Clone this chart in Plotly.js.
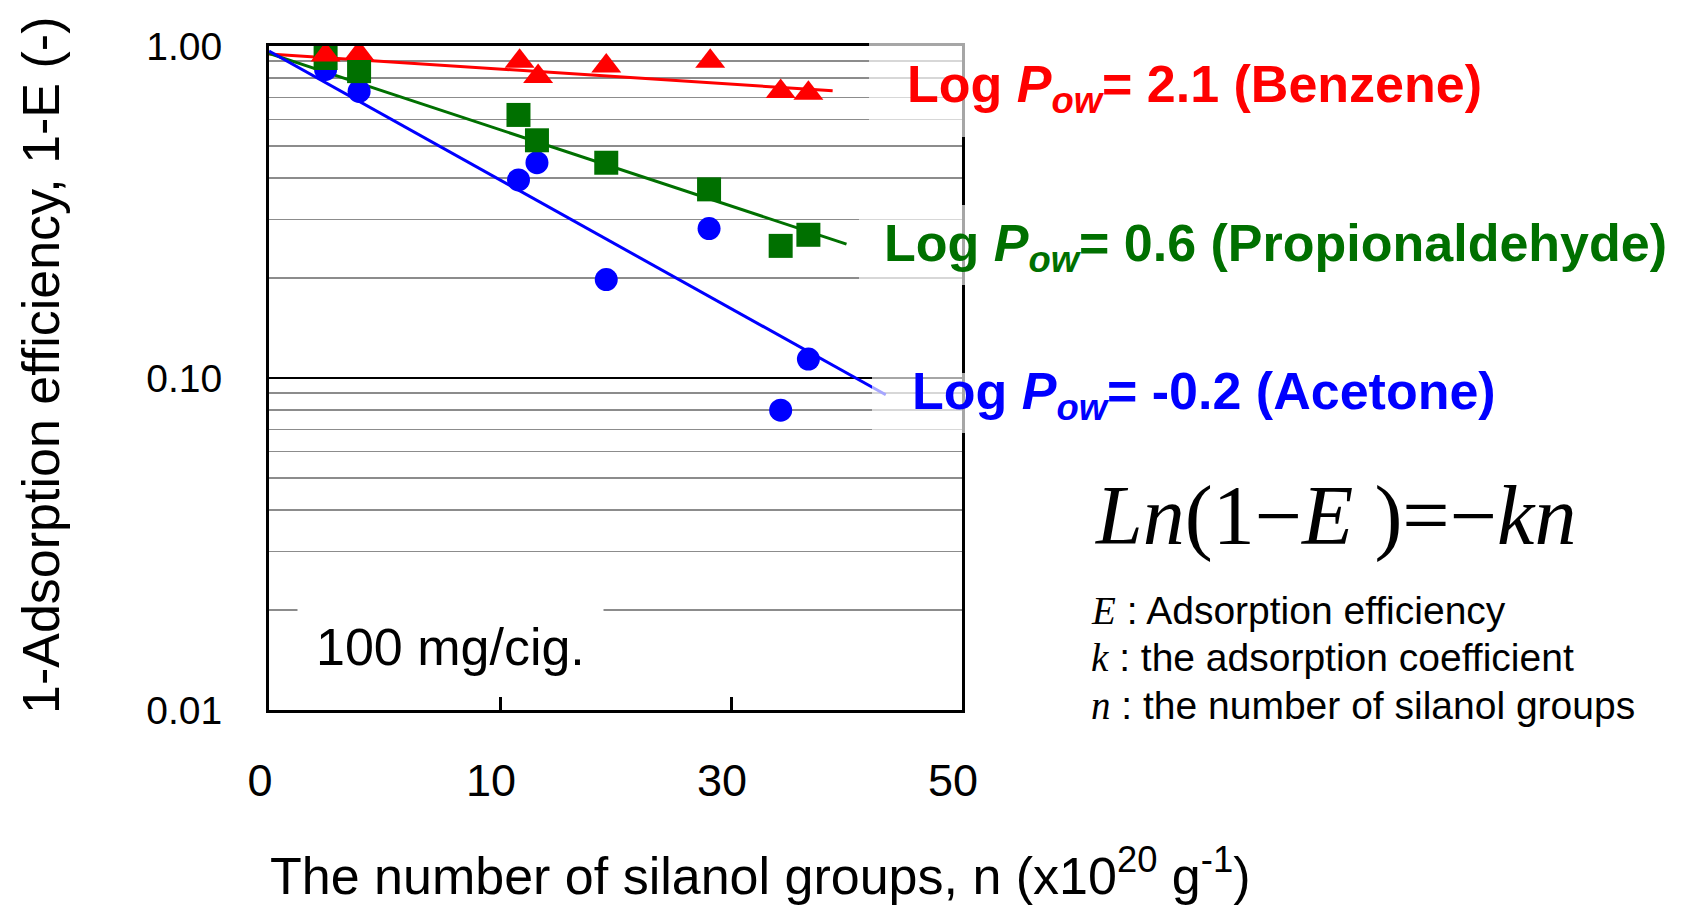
<!DOCTYPE html>
<html>
<head>
<meta charset="utf-8">
<script src="https://cdn.plot.ly/plotly-3.0.1.min.js"></script>
<style>html,body{margin:0;padding:0;background:#fff;}#chart{width:1683px;height:908px;}</style>
</head>
<body>
<div id="chart"></div>
<script>
// x in plot units (axis 0..60, labelled 0,10,30,50 at equal spacing as in the source)
const nBenzene = [4.9, 7.8, 21.7, 23.3, 29.2, 38.2, 44.3, 46.7];
const yBenzene = [0.94, 0.95, 0.90, 0.81, 0.87, 0.90, 0.73, 0.72];
const nPropional = [4.9, 7.8, 21.6, 23.2, 29.2, 38.1, 44.3, 46.7];
const yPropional = [0.92, 0.84, 0.62, 0.52, 0.445, 0.37, 0.25, 0.27];
const nAcetone = [4.9, 7.8, 21.6, 23.2, 29.2, 38.1, 44.3, 46.7];
const yAcetone = [0.85, 0.73, 0.395, 0.445, 0.198, 0.282, 0.080, 0.114];

const fitBenzeneX = [0, 48.8], fitBenzeneY = [0.946, 0.733];
const fitPropionalX = [0, 50.0], fitPropionalY = [0.95, 0.253];
const fitAcetoneX = [0, 53.4], fitAcetoneY = [0.965, 0.089];

const xTickVals = [0, 20, 40, 60];
const xTickText = ["0", "10", "30", "50"];
const yTickVals = [0.01, 0.1, 1];
const yTickText = ["0.01", "0.10", "1.00"];
const yMinorVals = [0.02,0.03,0.04,0.05,0.06,0.07,0.08,0.09,0.2,0.3,0.4,0.5,0.6,0.7,0.8,0.9];

const RED = '#ff0000', GREEN = '#007000', BLUE = '#0000ff';
const NARROW = '"Liberation Sans Narrow", "Arial Narrow", "Liberation Sans", Arial, sans-serif';
const SERIF = '"Liberation Serif", "Times New Roman", serif';

const traces = [
  {x: fitBenzeneX, y: fitBenzeneY, mode: 'lines', line: {color: RED, width: 3}, hoverinfo: 'skip'},
  {x: fitPropionalX, y: fitPropionalY, mode: 'lines', line: {color: GREEN, width: 3}, hoverinfo: 'skip'},
  {x: fitAcetoneX, y: fitAcetoneY, mode: 'lines', line: {color: BLUE, width: 3}, hoverinfo: 'skip'},
  {x: nAcetone, y: yAcetone, mode: 'markers', marker: {symbol: 'circle', size: 23, color: BLUE}},
  {x: nPropional, y: yPropional, mode: 'markers', marker: {symbol: 'square', size: 24, color: GREEN}},
  {x: nBenzene, y: yBenzene, mode: 'markers', marker: {symbol: 'triangle-up', size: 26, color: RED}}
];

const W = 693, H = 664;
function px(x){ return (x - 269) / W; }
function py(y){ return (710 - y) / H; }

const layout = {
  width: 1683, height: 908,
  margin: {l: 269, r: 721, t: 46, b: 198},
  paper_bgcolor: '#fff', plot_bgcolor: '#fff',
  showlegend: false,
  xaxis: {
    range: [0, 60], tickvals: xTickVals, ticktext: xTickText,
    showgrid: false, zeroline: false,
    showline: true, linecolor: '#000', linewidth: 3, mirror: true,
    ticks: 'inside', ticklen: 13, tickwidth: 3, tickcolor: '#000',
    ticklabelstandoff: 29, ticklabelshift: -9,
    tickfont: {family: NARROW, size: 45, color: '#000'}
  },
  yaxis: {
    type: 'log', range: [-2, 0],
    tickvals: yTickVals, ticktext: yTickText,
    showgrid: true, gridcolor: '#000', gridwidth: 2.5,
    zeroline: false,
    showline: true, linecolor: '#000', linewidth: 3, mirror: true,
    ticks: '', ticklabelstandoff: 36,
    tickfont: {family: '"Liberation Sans", Arial, sans-serif', size: 39, color: '#000'},
    minor: {tickvals: yMinorVals, showgrid: true, gridcolor: '#8c8c8c', gridwidth: 1.6, ticks: ''}
  },
  shapes: [
    {type: 'rect', xref: 'paper', yref: 'paper', x0: px(869), x1: px(968), y0: py(137), y1: py(40), fillcolor: 'rgba(255,255,255,0.65)', line: {width: 0}, layer: 'above'},
    {type: 'rect', xref: 'paper', yref: 'paper', x0: px(859), x1: px(968), y0: py(285), y1: py(205), fillcolor: 'rgba(255,255,255,0.65)', line: {width: 0}, layer: 'above'},
    {type: 'rect', xref: 'paper', yref: 'paper', x0: px(872), x1: px(968), y0: py(433), y1: py(373), fillcolor: 'rgba(255,255,255,0.65)', line: {width: 0}, layer: 'above'}
  ],
  annotations: [
    {xref: 'paper', yref: 'paper', x: px(905), y: py(88), xanchor: 'left', yanchor: 'middle', showarrow: false,
     text: '<b>Log <i>P</i><sub><i>ow</i></sub>= 2.1 (Benzene)</b>', font: {family: NARROW, size: 52, color: RED}},
    {xref: 'paper', yref: 'paper', x: px(882), y: py(247), xanchor: 'left', yanchor: 'middle', showarrow: false,
     text: '<b>Log <i>P</i><sub><i>ow</i></sub>= 0.6 (Propionaldehyde)</b>', font: {family: NARROW, size: 52, color: GREEN}},
    {xref: 'paper', yref: 'paper', x: px(910), y: py(395), xanchor: 'left', yanchor: 'middle', showarrow: false,
     text: '<b>Log <i>P</i><sub><i>ow</i></sub>= -0.2 (Acetone)</b>', font: {family: NARROW, size: 52, color: BLUE}},
    {xref: 'paper', yref: 'paper', x: px(1093), y: py(516), xanchor: 'left', yanchor: 'middle', showarrow: false,
     text: '<i>Ln</i>(1−<i>E</i> )=−<i>kn</i>', font: {family: SERIF, size: 84, color: '#000'}},
    {xref: 'paper', yref: 'paper', x: px(1089), y: py(610), xanchor: 'left', yanchor: 'middle', showarrow: false,
     text: '<span style="font-family:' + "'Liberation Serif'" + '"><i>E</i></span> : Adsorption efficiency', font: {family: NARROW, size: 39, color: '#000'}},
    {xref: 'paper', yref: 'paper', x: px(1089), y: py(657), xanchor: 'left', yanchor: 'middle', showarrow: false,
     text: '<span style="font-family:' + "'Liberation Serif'" + '"><i>k</i></span> : the adsorption coefficient', font: {family: NARROW, size: 39, color: '#000'}},
    {xref: 'paper', yref: 'paper', x: px(1089), y: py(705), xanchor: 'left', yanchor: 'middle', showarrow: false,
     text: '<span style="font-family:' + "'Liberation Serif'" + '"><i>n</i></span> : the number of silanol groups', font: {family: NARROW, size: 39, color: '#000'}},
    {xref: 'paper', yref: 'paper', x: px(450), y: py(647), xanchor: 'center', yanchor: 'middle', showarrow: false,
     text: '100 mg/cig.', bgcolor: '#fff', borderpad: 18, font: {family: NARROW, size: 52, color: '#000'}},
    {xref: 'paper', yref: 'paper', x: px(760), y: py(872), xanchor: 'center', yanchor: 'middle', showarrow: false,
     text: 'The number of silanol groups, n (x10<sup>20</sup> g<sup>-1</sup>)', font: {family: NARROW, size: 52, color: '#000'}},
    {xref: 'paper', yref: 'paper', x: px(41), y: py(366), xanchor: 'center', yanchor: 'middle', showarrow: false, textangle: -90,
     text: '1-Adsorption efficiency, 1-E (-)', font: {family: NARROW, size: 52, color: '#000'}}
  ]
};

Plotly.newPlot('chart', traces, layout, {displayModeBar: false, staticPlot: true});
</script>
</body>
</html>
